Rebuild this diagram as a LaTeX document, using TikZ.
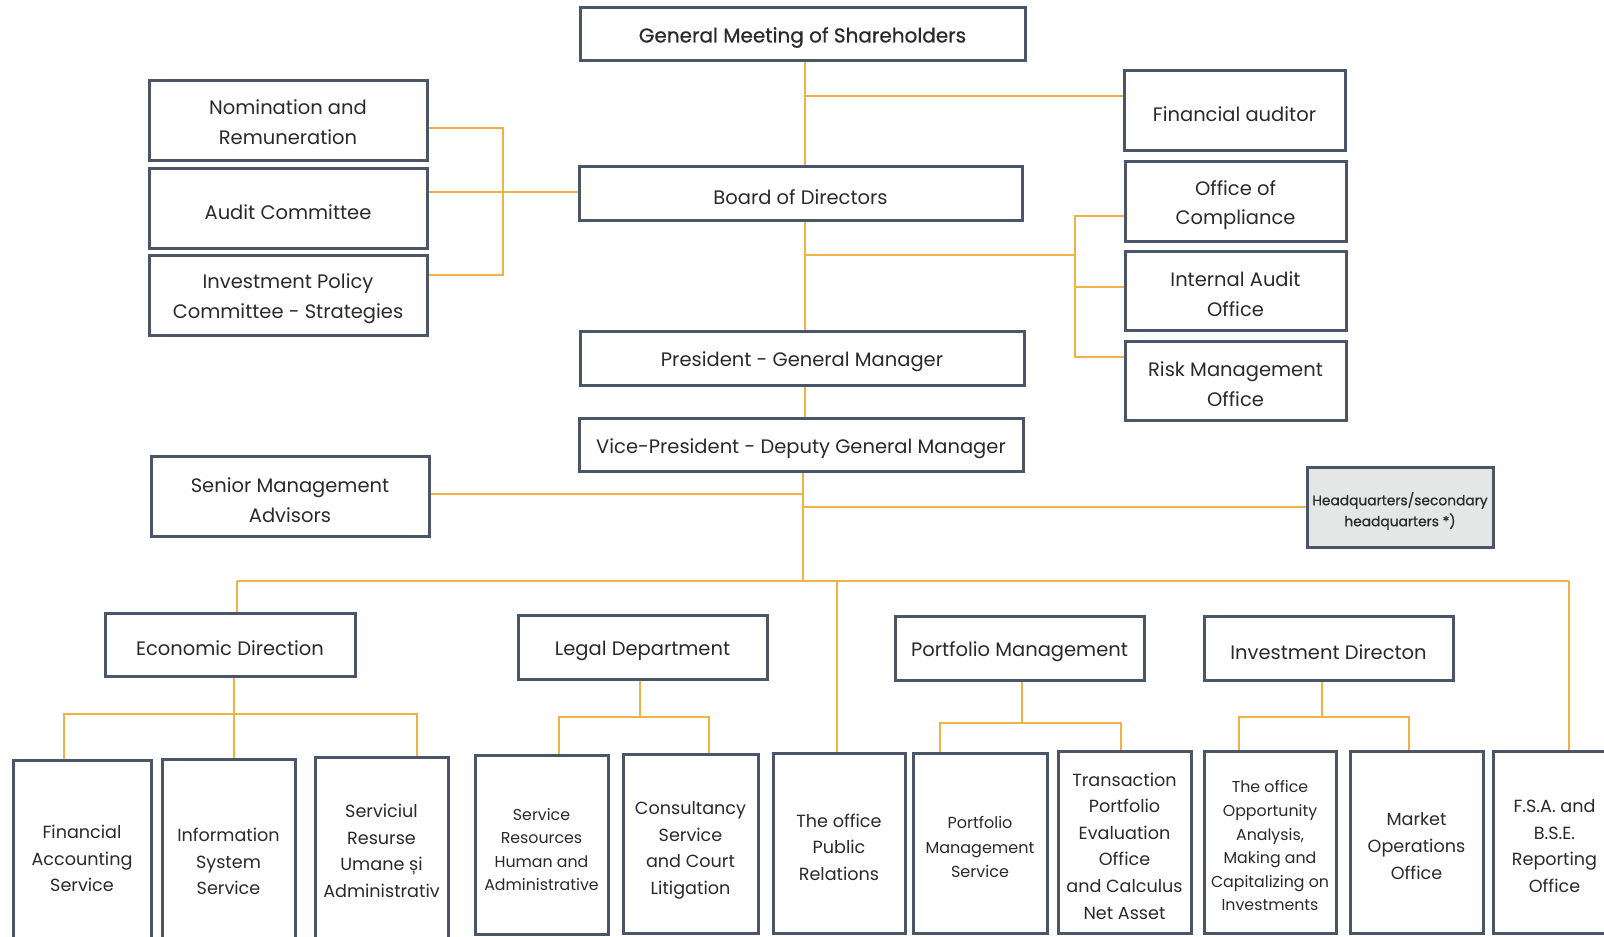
\documentclass[tikz,border=0pt]{standalone}
\usepackage{fontspec}
\setmainfont{Poppins}
\newfontfamily\medfont{Poppins}[FakeBold=0.7]
\definecolor{boxc}{HTML}{4A5568}
\definecolor{linec}{HTML}{EFB247}
\definecolor{hqfill}{HTML}{E5E7E6}
\definecolor{txtc}{HTML}{2A2A2A}
\tikzset{
  box/.style={draw=boxc,line width=3pt,inner sep=0pt,fill=white},
  lbl/.style={align=center,inner sep=0pt,text=txtc,font=\fontsize{19.5}{29.7}\selectfont},
  smallbox/.style={font=\fontsize{17.6}{26.6}\selectfont},
  tinybox/.style={font=\fontsize{15.8}{23.6}\selectfont},
  conn/.style={draw=linec,line width=2pt}
}
% #1 label style, #2 box style, #3 name, #4-#7 corners, #8 text
\newcommand{\orgbox}[8][]{%
  \pgfmathsetmacro{\bcx}{(#4+#6)/2}\pgfmathsetmacro{\bcy}{(#5+#7)/2}%
  \pgfmathsetmacro{\bw}{#6-#4}\pgfmathsetmacro{\bh}{#7-#5}%
  \node[box,#2,minimum width=\bw pt,minimum height=\bh pt] (#3) at (\bcx,\bcy) {};
  \node[lbl,#1,yshift=-4pt] (#3-t) at (#3.center) {#8};}
\begin{document}
\begin{tikzpicture}[x=1pt,y=-1pt]
\useasboundingbox (0,0) rectangle (1604,937);
% top
\orgbox[font=\fontsize{20}{29.7}\selectfont\medfont]{}{gms}{580}{7}{1025}{60}{General Meeting of Shareholders}
\orgbox[yshift=2pt]{}{nom}{149}{80}{427}{160}{Nomination and\\Remuneration}
\orgbox{}{ac}{149}{168}{427}{248}{Audit Committee}
\orgbox{}{ipc}{149}{255}{427}{335}{Investment Policy\\Committee - Strategies}
\orgbox{}{board}{579}{166}{1022}{220}{Board of Directors}
\orgbox{}{fa}{1124}{70}{1345}{150}{Financial auditor}
\orgbox{}{oc}{1125}{161}{1346}{241}{Office of\\Compliance}
\orgbox{}{ia}{1125}{251}{1346}{330}{Internal Audit\\Office}
\orgbox{}{rm}{1125}{341}{1346}{420}{Risk Management\\Office}
\orgbox{}{pres}{580}{331}{1024}{385}{President - General Manager}
\orgbox{}{vp}{579}{418}{1023}{471}{Vice-President - Deputy General Manager}
\orgbox{}{sma}{151}{456}{429}{536}{Senior Management\\Advisors}
\orgbox[font=\fontsize{13.8}{21}\selectfont\medfont]{fill=hqfill}{hq}{1307}{467}{1493}{547}{Headquarters/secondary\\headquarters *)}
% directions
\orgbox{}{ed}{105}{613}{355}{676}{Economic Direction}
\orgbox{}{ld}{518}{615}{767}{679}{Legal Department}
\orgbox{}{pm}{895}{616}{1144}{680}{Portfolio Management}
\orgbox{}{id}{1204}{616}{1453}{680}{Investment Directon}
% bottom row
\orgbox[smallbox,yshift=3pt]{}{fas}{13}{760}{151}{955}{Financial\\Accounting\\Service}
\orgbox[smallbox,yshift=2pt]{}{iss}{162}{759}{295}{960}{Information\\System\\Service}
\orgbox[smallbox,yshift=9pt]{}{srum}{315}{757}{448}{955}{Serviciul\\Resurse\\Umane și\\Administrativ}
\orgbox[tinybox,yshift=-1pt]{}{srha}{475}{755}{608}{934}{Service\\Resources\\Human and\\Administrative}
\orgbox[smallbox,yshift=-3pt]{}{csl}{623}{754}{758}{933}{Consultancy\\Service\\and Court\\Litigation}
\orgbox[smallbox]{}{opr}{773}{753}{905}{933}{The office\\Public\\Relations}
\orgbox[font=\fontsize{16}{24.5}\selectfont]{}{pms}{913}{753}{1047}{933}{Portfolio\\Management\\Service}
\orgbox[smallbox]{}{tpe}{1058}{751}{1191}{933}{Transaction\\Portfolio\\Evaluation\\Office\\and Calculus\\Net Asset}
\orgbox[tinybox]{}{ooa}{1204}{751}{1336}{933}{The office\\Opportunity\\Analysis,\\Making and\\Capitalizing on\\Investments}
\orgbox[smallbox]{}{moo}{1350}{751}{1483}{933}{Market\\Operations\\Office}
\orgbox[smallbox]{}{fsa}{1493}{751}{1616}{933}{F.S.A. and\\B.S.E.\\Reporting\\Office}
% coordinates
\coordinate (t1) at (805,96);
\coordinate (c1) at (503,128);
\coordinate (c2) at (503,192);
\coordinate (c3) at (503,275);
\coordinate (t2) at (805,255);
\coordinate (r1) at (1075,216);
\coordinate (r2) at (1075,287);
\coordinate (r3) at (1075,357);
\coordinate (t3) at (803,494);
\coordinate (t4) at (803,507);
\coordinate (bus) at (803,581);
\coordinate (bl) at (237,581);
\coordinate (bpr) at (837,581);
\coordinate (br) at (1569,581);
\coordinate (e1) at (64,714);
\coordinate (e2) at (234,714);
\coordinate (e3) at (417,714);
\coordinate (l1) at (559,717);
\coordinate (l2) at (640,717);
\coordinate (l3) at (709,717);
\coordinate (p1) at (940,723);
\coordinate (p2) at (1022,723);
\coordinate (p3) at (1121,723);
\coordinate (i1) at (1239,717);
\coordinate (i2) at (1322,717);
\coordinate (i3) at (1409,717);
% connectors
\draw[conn] (gms.south -| t1) -- (board.north -| t1);
\draw[conn] (t1) -- (fa.west |- t1);
\draw[conn] (nom.east |- c1) -- (c1) -- (c3) -- (ipc.east |- c3);
\draw[conn] (ac.east |- c2) -- (board.west |- c2);
\draw[conn] (board.south -| t2) -- (pres.north -| t2);
\draw[conn] (t2) -- (r1 |- t2);
\draw[conn] (oc.west |- r1) -- (r1) -- (r3) -- (rm.west |- r3);
\draw[conn] (r2) -- (ia.west |- r2);
\draw[conn] (pres.south -| t2) -- (vp.north -| t2);
\draw[conn] (vp.south -| bus) -- (bus);
\draw[conn] (sma.east |- t3) -- (t3);
\draw[conn] (t4) -- (hq.west |- t4);
\draw[conn] (bl) -- (br);
\draw[conn] (bl) -- (ed.north -| bl);
\draw[conn] (ld.north -| l2) -- (ld.north -| l2 |- bus);
\draw[conn] (bpr) -- (opr.north -| bpr);
\draw[conn] (pm.north -| p2) -- (pm.north -| p2 |- bus);
\draw[conn] (id.north -| i2) -- (id.north -| i2 |- bus);
\draw[conn] (br) -- (fsa.north -| br);
\draw[conn] (ed.south -| e2) -- (e2);
\draw[conn] (fas.north -| e1) -- (e1) -- (e3) -- (srum.north -| e3);
\draw[conn] (e2) -- (iss.north -| e2);
\draw[conn] (ld.south -| l2) -- (l2);
\draw[conn] (srha.north -| l1) -- (l1) -- (l3) -- (csl.north -| l3);
\draw[conn] (pm.south -| p2) -- (p2);
\draw[conn] (pms.north -| p1) -- (p1) -- (p3) -- (tpe.north -| p3);
\draw[conn] (id.south -| i2) -- (i2);
\draw[conn] (ooa.north -| i1) -- (i1) -- (i3) -- (moo.north -| i3);
\end{tikzpicture}
\end{document}
